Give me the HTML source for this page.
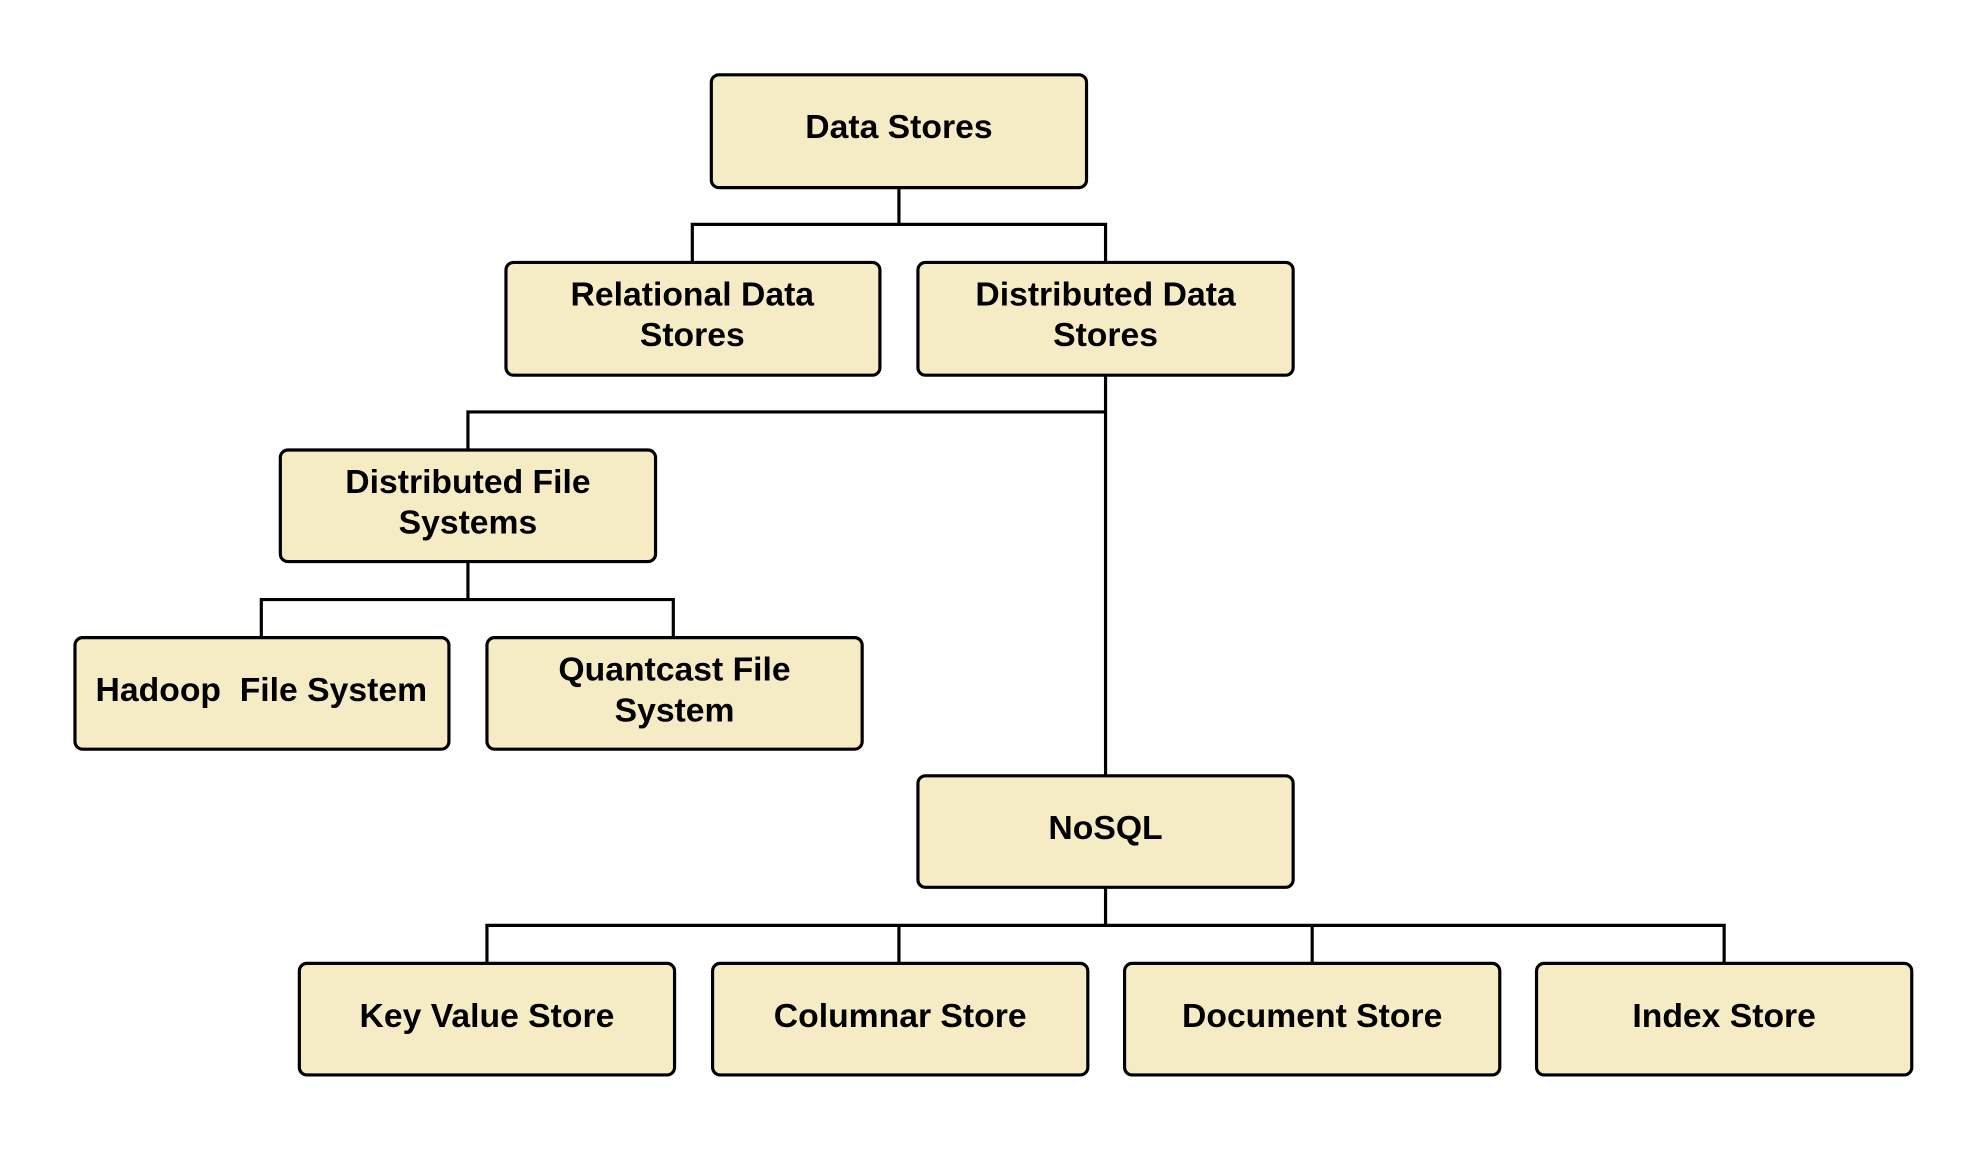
<!DOCTYPE html>
<html><head><style>html,body{margin:0;padding:0;background:#fff}svg{display:block}</style></head><body>
<svg width="1988" height="1151" viewBox="0 0 1568 908" xmlns="http://www.w3.org/2000/svg">
<g fill="none" stroke="#000" stroke-width="2.5">
<path d="M709 148V177M546 207V177H872V207"/>
<path d="M872 296V612M369 355V325H872"/>
<path d="M369 443V473M206 503V473H531V503"/>
<path d="M872 700V730M384 760V730H1360V760M709 730V760M1035 730V760"/>
</g>
<g fill="#f5ebc5" stroke="#000" stroke-width="2.5">
<rect x="561" y="59" width="296" height="89" rx="6"/>
<rect x="399" y="207" width="295" height="89" rx="6"/>
<rect x="724" y="207" width="296" height="89" rx="6"/>
<rect x="221" y="355" width="296" height="88" rx="6"/>
<rect x="59" y="503" width="295" height="88" rx="6"/>
<rect x="384" y="503" width="296" height="88" rx="6"/>
<rect x="724" y="612" width="296" height="88" rx="6"/>
<rect x="236" y="760" width="296" height="88" rx="6"/>
<rect x="562" y="760" width="296" height="88" rx="6"/>
<rect x="887" y="760" width="296" height="88" rx="6"/>
<rect x="1212" y="760" width="296" height="88" rx="6"/>
</g>
<g font-family="Liberation Sans, sans-serif" font-weight="bold" font-size="26.6" text-anchor="middle" fill="#000">
<text x="709" y="109">Data Stores</text>
<text x="546" y="241">Relational Data</text><text x="546" y="273">Stores</text>
<text x="872" y="241">Distributed Data</text><text x="872" y="273">Stores</text>
<text x="369" y="389">Distributed File</text><text x="369" y="421">Systems</text>
<text x="206" y="553">Hadoop&#160; File System</text>
<text x="532" y="537">Quantcast File</text><text x="532" y="569">System</text>
<text x="872" y="662">NoSQL</text>
<text x="384" y="810">Key Value Store</text>
<text x="710" y="810">Columnar Store</text>
<text x="1035" y="810">Document Store</text>
<text x="1360" y="810">Index Store</text>
</g>
</svg>
</body></html>
